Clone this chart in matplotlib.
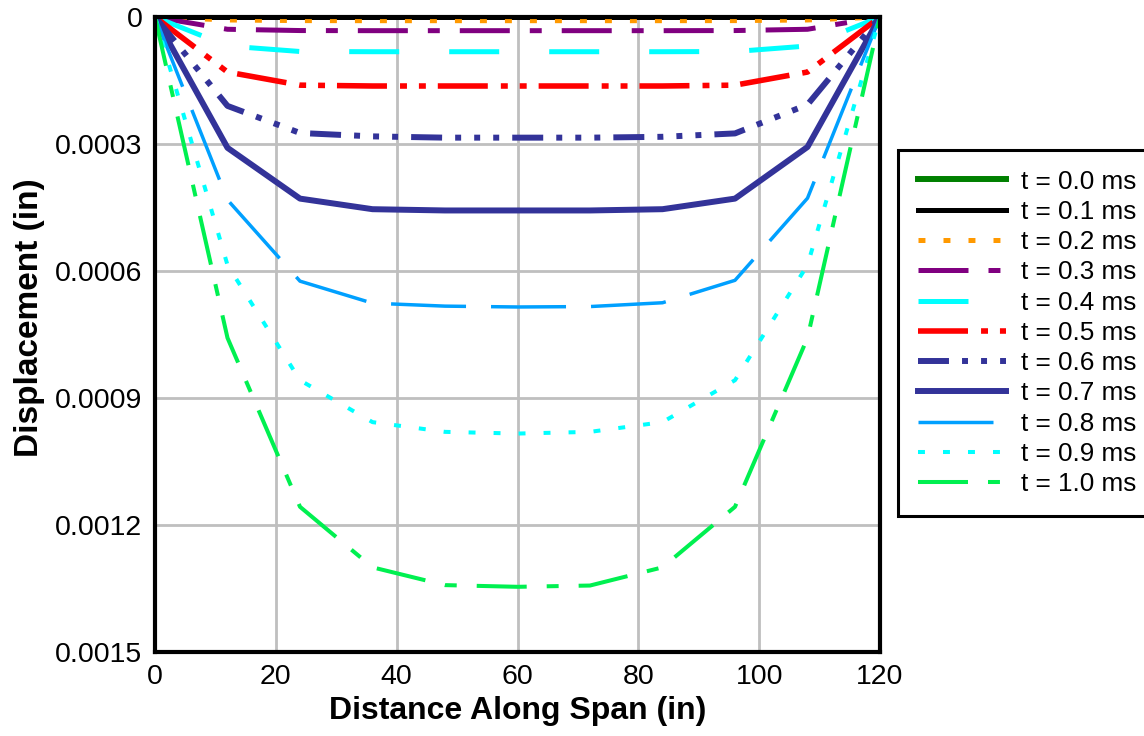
import matplotlib
matplotlib.use("Agg")
import matplotlib.pyplot as plt

plt.rcParams['font.family'] = ['Liberation Sans', 'DejaVu Sans']
plt.rcParams['lines.scale_dashes'] = False

# data (displacement in inches)
x = [0, 12, 24, 36, 48, 60, 72, 84, 96, 108, 120]

d00 = [0, 0, 0, 0, 0, 0, 0, 0, 0, 0, 0]
d01 = [0, 0, 0, 0, 0, 0, 0, 0, 0, 0, 0]
d02 = [0, 0.000007, 0.0000085, 0.0000087, 0.0000087, 0.0000087, 0.0000087, 0.0000087, 0.0000085, 0.000007, 0]
d03 = [0, 0.000029, 0.000032, 0.0000323, 0.0000323, 0.0000323, 0.0000323, 0.0000323, 0.000032, 0.000029, 0]
d04 = [0, 0.0000685, 0.0000815, 0.000082, 0.000082, 0.000082, 0.000082, 0.000082, 0.0000815, 0.0000685, 0]
d05 = [0, 0.00013, 0.000161, 0.000163, 0.000163, 0.000163, 0.000163, 0.000163, 0.000161, 0.00013, 0]
d06 = [0, 0.00021, 0.000274, 0.000282, 0.000285, 0.000285, 0.000285, 0.000283, 0.000275, 0.000207, 0]
d07 = [0, 0.000309, 0.000429, 0.000454, 0.000457, 0.000457, 0.000457, 0.000454, 0.000429, 0.000307, 0]
d08 = [0, 0.000432, 0.000624, 0.000676, 0.000683, 0.000685, 0.000684, 0.000675, 0.000622, 0.000428, 0]
d09 = [0, 0.000586, 0.000858, 0.000957, 0.00098, 0.000984, 0.00098, 0.000957, 0.000858, 0.000586, 0]
d10 = [0, 0.000758, 0.001157, 0.0013, 0.001342, 0.001346, 0.001343, 0.0013, 0.001157, 0.000758, 0]

labels = ['t = 0.0 ms', 't = 0.1 ms', 't = 0.2 ms', 't = 0.3 ms', 't = 0.4 ms', 't = 0.5 ms',
          't = 0.6 ms', 't = 0.7 ms', 't = 0.8 ms', 't = 0.9 ms', 't = 1.0 ms']

xticks = [0, 20, 40, 60, 80, 100, 120]
yticks = [0, 0.0003, 0.0006, 0.0009, 0.0012, 0.0015]
ytick_labels = ['0', '0.0003', '0.0006', '0.0009', '0.0012', '0.0015']

series = [d00, d01, d02, d03, d04, d05, d06, d07, d08, d09, d10]

# colour, width (pt), dash pattern (pt)
styles = [
    ('#008000', 4.3, None),
    ('#000000', 3.6, None),
    ('#FF9900', 3.6, (5, 13)),
    ('#800080', 3.6, (36, 14.4, 8.6, 14.4)),
    ('#00FFFF', 3.6, (36, 36)),
    ('#FF0000', 4.0, (36, 9.4, 5, 8.6, 5, 8.6)),
    ('#333399', 4.3, (22.3, 9.4, 4.3, 9.4, 4.3, 9.4, 4.3, 9.4)),
    ('#333399', 4.3, None),
    ('#00A0FF', 2.5, (54, 18)),
    ('#00FFFF', 2.9, (5, 13)),
    ('#00F050', 2.9, (36, 14.4, 8.6, 14.4)),
]

fig = plt.figure(figsize=(11.44, 7.36), dpi=100)
ax = fig.add_axes([155 / 1144, 1 - 652 / 736, 725 / 1144, 635 / 736])

for ys, lab, (c, lw, dash) in zip(series, labels, styles):
    line, = ax.plot(x, ys, color=c, lw=lw, label=lab)
    if dash is not None:
        line.set_dashes(dash)

ax.set_xlim(0, 120)
ax.set_ylim(0.0015, 0)
ax.set_xticks(xticks)
ax.set_yticks(yticks)
ax.set_yticklabels(ytick_labels)
ax.grid(True, color='#BFBFBF', lw=2)
ax.set_axisbelow(True)
ax.tick_params(length=0, labelsize=20.5, pad=9)
for s in ax.spines.values():
    s.set_linewidth(3)
    s.set_color('black')

ax.set_xlabel('Distance Along Span (in)', fontsize=23, fontweight='bold', labelpad=4)
ax.set_ylabel('Displacement (in)', fontsize=24, fontweight='bold')
ax.yaxis.set_label_coords(-0.152, 0.527)

leg = ax.legend(loc='upper left', bbox_to_anchor=(898 / 1144, 1 - 150 / 736),
                bbox_transform=fig.transFigure, borderaxespad=0,
                fontsize=18.8, handlelength=3.4, handletextpad=0.55,
                labelspacing=0.24, borderpad=0.75, fancybox=False,
                framealpha=1, edgecolor='black')
leg.get_frame().set_linewidth(2.2)

fig.savefig('out.png', dpi=100)
